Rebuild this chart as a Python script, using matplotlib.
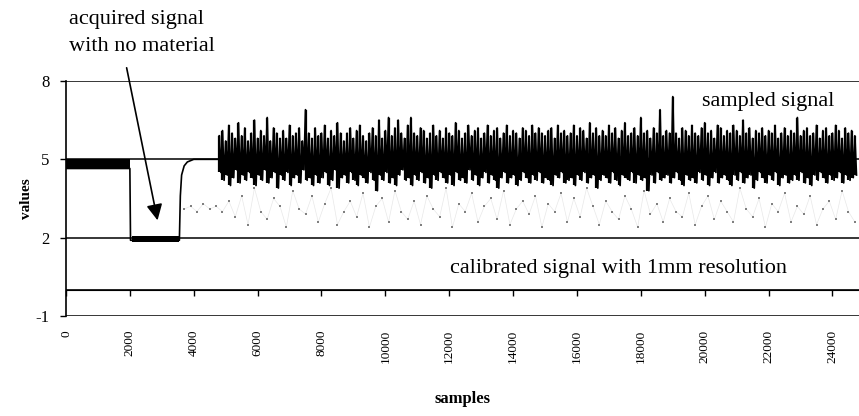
import numpy as np
import matplotlib
matplotlib.use("Agg")
import matplotlib.pyplot as plt

plt.rcParams['font.family'] = ['Liberation Serif', 'DejaVu Serif']

# baseline part of the sampled signal (before the material arrives)
base_x = [0, 2000, 2020, 3550, 3580, 3620, 3700, 3800, 4000, 4800]
base_y = [4.65, 4.65, 1.9, 1.9, 3.6, 4.4, 4.75, 4.9, 5.0, 5.0]
band1_x = [0, 2000]
band1_lo = [4.62, 4.62]
band1_hi = [5.0, 5.0]
band2_x = [2060, 3550]
band2_lo = [1.83, 1.83]
band2_hi = [2.08, 2.08]

# noisy part of the sampled signal, one low/high pair every 100 samples
noise_start = 4800
noise_step = 100
noise_hi = [5.9, 6.1, 5.7, 6.3, 6.0, 5.8, 6.4, 5.9, 6.2, 5.7,
            6.0, 6.5, 5.8, 6.1, 5.9, 6.6, 5.7, 6.2, 6.0, 5.8,
            6.1, 5.8, 6.3, 5.9, 6.0, 6.2, 5.7, 6.9, 6.0, 5.8,
            6.2, 5.9, 6.0, 6.3, 5.8, 6.1, 5.9, 6.4, 6.0, 5.7,
            6.0, 6.2, 5.8, 6.1, 6.3, 5.9, 5.7, 6.0, 6.2, 5.9,
            6.5, 5.8, 6.1, 6.6, 5.9, 6.2, 6.5, 6.0, 5.8, 6.3,
            6.6, 6.0, 5.9, 6.2, 6.1, 5.8, 6.0, 6.3, 5.9, 6.1,
            5.8, 6.2, 6.0, 5.9, 6.4, 6.1, 5.8, 6.0, 6.3, 5.9,
            6.1, 6.2, 5.8, 6.0, 6.3, 5.9, 6.1, 6.2, 5.8, 6.0,
            6.3, 5.9, 6.1, 6.0, 5.8, 6.2, 6.1, 5.9, 6.3, 6.0,
            6.2, 6.0, 5.9, 6.1, 6.2, 5.8, 6.3, 6.0, 6.1, 5.9,
            6.0, 6.3, 5.9, 6.2, 6.1, 5.8, 6.4, 6.0, 6.2, 5.9,
            6.1, 5.9, 6.3, 6.0, 6.2, 5.8, 6.1, 6.4, 5.9, 6.0,
            6.2, 5.9, 6.6, 6.0, 6.1, 5.8, 6.2, 6.0, 6.9, 5.9,
            6.1, 6.0, 7.4, 6.0, 5.8, 6.2, 6.1, 5.9, 6.3, 6.0,
            5.9, 6.2, 6.4, 6.0, 6.1, 5.8, 6.3, 6.2, 5.9, 6.1,
            6.0, 6.3, 6.1, 5.9, 6.5, 6.0, 6.2, 5.8, 6.1, 6.0,
            6.2, 5.9, 6.1, 6.0, 6.3, 5.8, 6.0, 6.2, 5.9, 6.1,
            6.0, 6.6, 5.9, 6.1, 6.2, 5.9, 6.0, 6.3, 5.8, 6.1,
            6.2, 5.9, 6.0, 6.3, 6.1, 5.8, 6.2, 6.0, 6.1, 5.9]
noise_lo = [4.5, 4.2, 4.4, 4.0, 4.3, 4.6, 4.1, 4.4, 4.2, 4.5,
            4.3, 4.0, 4.4, 4.2, 4.6, 4.1, 4.3, 4.5, 3.9, 4.4,
            4.2, 4.5, 4.0, 4.3, 4.4, 4.1, 4.6, 4.2, 4.3, 4.0,
            4.4, 4.1, 4.3, 4.5, 4.0, 4.2, 4.6, 3.9, 4.3, 4.4,
            4.1, 4.5, 4.2, 4.0, 4.4, 4.3, 4.1, 4.5, 4.2, 3.8,
            4.4, 4.2, 4.5, 4.1, 4.3, 4.0, 4.4, 4.6, 4.2, 4.3,
            4.0, 4.4, 4.2, 4.5, 4.1, 4.3, 3.9, 4.4, 4.2, 4.5,
            4.3, 4.1, 4.4, 4.0, 4.5, 4.2, 4.3, 4.1, 4.6, 4.2,
            4.4, 4.0, 4.3, 4.5, 4.1, 4.4, 4.2, 3.9, 4.3, 4.5,
            4.1, 4.3, 4.4, 4.0, 4.2, 4.5, 4.3, 4.1, 4.4, 4.2,
            4.5, 4.1, 4.3, 4.2, 4.0, 4.4, 4.3, 4.5, 4.1, 4.2,
            4.3, 4.0, 4.4, 4.2, 4.5, 4.1, 4.3, 4.4, 3.9, 4.2,
            4.4, 4.3, 4.1, 4.5, 4.2, 4.0, 4.4, 4.3, 4.2, 4.5,
            4.1, 4.4, 4.2, 4.3, 3.8, 4.4, 4.1, 4.5, 4.2, 4.3,
            4.4, 4.1, 4.3, 4.5, 4.2, 4.0, 4.4, 4.2, 4.3, 4.1,
            4.5, 4.2, 4.4, 4.0, 4.3, 4.5, 4.1, 4.3, 4.4, 4.2,
            4.0, 4.4, 4.2, 4.5, 4.1, 4.3, 4.4, 3.9, 4.2, 4.5,
            4.3, 4.1, 4.4, 4.2, 4.5, 4.0, 4.3, 4.4, 4.1, 4.2,
            4.4, 4.2, 4.5, 4.1, 4.3, 4.0, 4.4, 4.2, 4.5, 4.3,
            4.1, 4.4, 4.2, 4.3, 4.5, 4.1, 4.4, 4.2, 4.3, 4.4]

# second (light grey) trace, one value every 200 samples
grey_start = 3700
grey_step = 200
grey_y = [3.1, 3.2, 3.0, 3.3, 3.1, 3.2, 3.0, 3.4, 2.8, 3.6,
          2.5, 3.9, 3.0, 2.7, 3.5, 3.2, 2.4, 3.8, 3.1, 2.9,
          3.6, 2.6, 3.3, 3.9, 2.5, 3.0, 3.4, 2.8, 3.7, 2.4,
          3.2, 3.5, 2.6, 3.8, 3.0, 2.7, 3.4, 2.5, 3.6, 3.1,
          2.8, 3.9, 2.4, 3.3, 3.0, 3.7, 2.6, 3.2, 3.5, 2.7,
          3.8, 2.5, 3.1, 3.4, 2.9, 3.6, 2.4, 3.3, 3.0, 3.7,
          2.6, 3.5, 2.8, 3.9, 3.2, 2.5, 3.4, 3.0, 2.7, 3.6,
          3.1, 2.4, 3.8, 2.9, 3.3, 2.6, 3.5, 3.0, 2.8, 3.7,
          2.5, 3.2, 3.6, 2.7, 3.4, 3.0, 2.6, 3.9, 3.1, 2.8,
          3.5, 2.4, 3.3, 3.0, 3.7, 2.6, 3.2, 2.9, 3.6, 2.5,
          3.1, 3.4, 2.7, 3.8, 3.0, 2.6]

# calibrated signal
calib_x = [0, 24830]
calib_y = [0, 0]

x_ticks = list(range(0, 26000, 2000))
y_ticks = [-1, 2, 5, 8]

noise_x = noise_start + noise_step * np.arange(len(noise_hi))
grey_x = grey_start + grey_step * np.arange(len(grey_y))

# zigzag through the low/high pairs to fill the dense core
zig_x = np.column_stack([noise_x, noise_x + noise_step / 2]).ravel()
zig_y = np.column_stack([noise_hi, noise_lo]).ravel()

fig = plt.figure(figsize=(8.59, 4.16), dpi=100)
ax = fig.add_axes([66/859, 1 - 316/416, 1 - 66/859, (316 - 81)/416])

ax.plot(grey_x, grey_y, color='#e8e8e8', lw=0.5)
ax.plot(grey_x, grey_y, ls='none', marker='s', ms=1.5, mew=0,
        color='#808080')
ax.plot(calib_x, calib_y, color='black', lw=1.2)
ax.fill_between(band1_x, band1_lo, band1_hi, color='black', lw=0)
ax.fill_between(band2_x, band2_lo, band2_hi, color='black', lw=0)
ax.plot(base_x, base_y, color='black', lw=1.2)
ax.plot(zig_x, zig_y, color='black', lw=1.3)
ax.vlines(noise_x, noise_lo, noise_hi, color='black', lw=1.6)

ax.set_xlim(0, 24830)
ax.set_ylim(-1, 8)
ax.set_yticks(y_ticks)
ax.set_yticklabels([str(v) for v in y_ticks], fontsize=12)
ax.yaxis.grid(True, color='black', lw=1.1)
ax.set_axisbelow(True)
ax.tick_params(axis='y', direction='out', length=4, width=1, pad=8)

# x axis crosses at 0, labels sit below the plot area
ax.spines['bottom'].set_position(('data', 0))
ax.spines['top'].set_visible(False)
ax.spines['right'].set_visible(False)
ax.spines['left'].set_linewidth(1.2)
ax.set_xticks(x_ticks)
ax.tick_params(axis='x', direction='out', length=4, width=1, labelbottom=False)

ax2 = ax.twiny()
ax2.set_xlim(ax.get_xlim())
ax2.xaxis.set_ticks_position('bottom')
ax2.xaxis.set_label_position('bottom')
ax2.set_xticks(x_ticks)
ax2.set_xticklabels([str(v) for v in x_ticks], rotation=90, fontsize=9.5)
ax2.tick_params(axis='x', length=0, pad=10)
for s in ax2.spines.values():
    s.set_visible(False)
ax2.set_xlabel('samples', fontsize=12, fontweight='bold', labelpad=20)

ax.set_ylabel('values', fontsize=11, fontweight='bold', labelpad=2)

ax.text(22000, 7.2, 'sampled signal', fontsize=16, ha='center', va='center')
ax.text(17300, 0.83, 'calibrated signal with 1mm resolution', fontsize=16,
        ha='center', va='center')
fig.text(69/859, 1 - 33/416, 'acquired signal\nwith no material', fontsize=16,
         ha='left', va='center', linespacing=1.6)
ax.annotate('', xy=(2884, 2.56), xytext=(1881, 8.61),
            arrowprops=dict(arrowstyle='-|>', color='black', lw=1.2,
                            mutation_scale=24), annotation_clip=False)

plt.savefig('out.png', dpi=100)
